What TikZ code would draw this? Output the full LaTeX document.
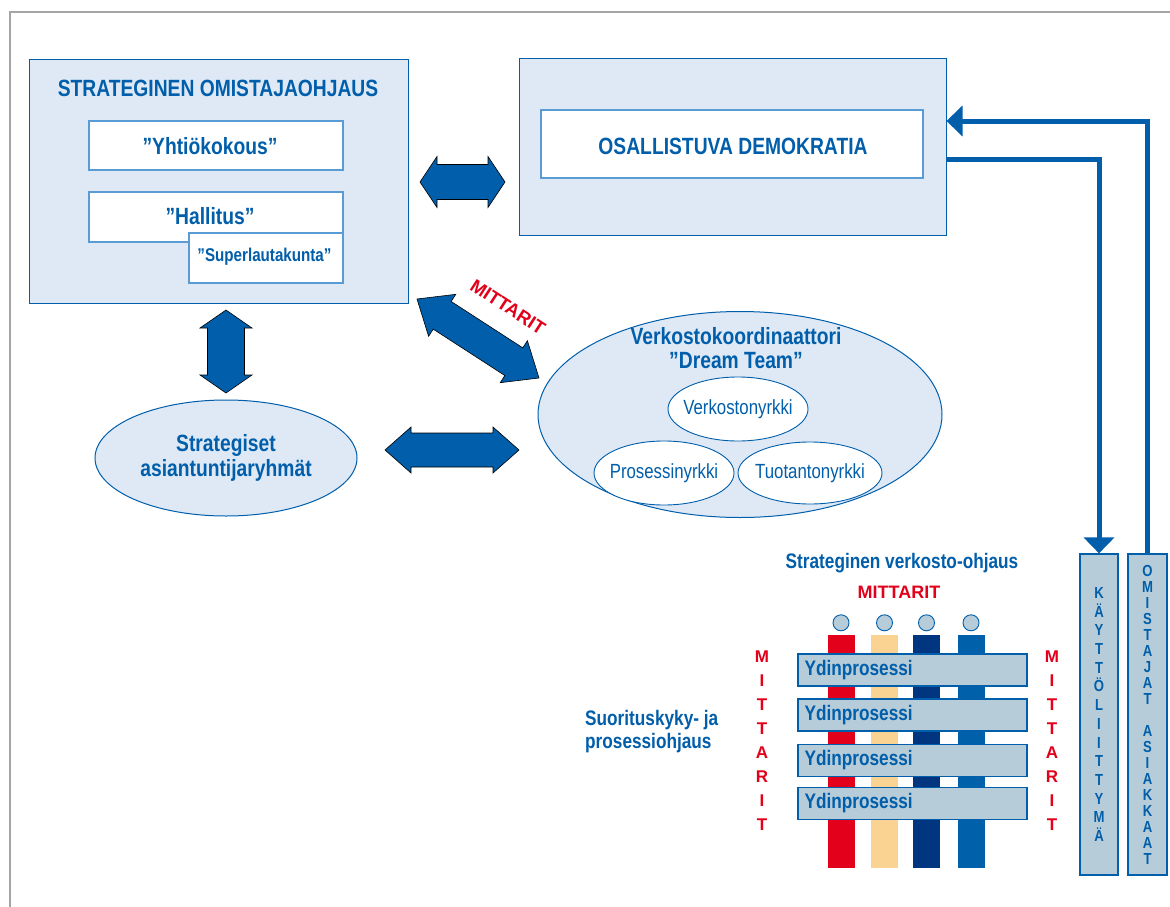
\documentclass[tikz,border=0pt]{standalone}
\usepackage{fontspec}
\setmainfont{Liberation Sans}
\newfontfamily\nar[FakeStretch=0.82]{Liberation Sans}
\usetikzlibrary{calc,shapes.geometric,arrows.meta}
\definecolor{mainblue}{RGB}{0,94,170}
\definecolor{lightfill}{RGB}{222,233,245}
\definecolor{innerblue}{RGB}{91,155,213}
\definecolor{barfill}{RGB}{182,204,216}
\definecolor{mred}{RGB}{226,0,26}
\definecolor{mtan}{RGB}{250,210,145}
\definecolor{mnavy}{RGB}{0,53,128}
\definecolor{mblue}{RGB}{0,96,170}
\definecolor{framegray}{RGB}{165,165,165}
\newcommand{\dblblock}[5]{%
 \filldraw[blockarrow] (#1)
  -- ($(#1)!#5!(#2)!#4!90:(#2)$)
  -- ($(#1)!#5!(#2)!#3!90:(#2)$)
  -- ($(#2)!#5!(#1)!#3!-90:(#1)$)
  -- ($(#2)!#5!(#1)!#4!-90:(#1)$)
  -- (#2)
  -- ($(#2)!#5!(#1)!#4!90:(#1)$)
  -- ($(#2)!#5!(#1)!#3!90:(#1)$)
  -- ($(#1)!#5!(#2)!#3!-90:(#2)$)
  -- ($(#1)!#5!(#2)!#4!-90:(#2)$)
  -- cycle;}
\tikzset{
 bigbox/.style={draw=mainblue, fill=lightfill, line width=1pt, inner sep=0pt},
 whitebox/.style={draw=innerblue, fill=white, line width=1.3pt, inner sep=0pt},
 bigtext/.style={font=\nar\bfseries\fontsize{23.5}{24.5}\selectfont, text=mainblue, inner sep=0pt},
 midtext/.style={font=\nar\bfseries\fontsize{21}{23.5}\selectfont, text=mainblue, inner sep=0pt},
 smalltext/.style={font=\nar\bfseries\fontsize{18.5}{21}\selectfont, text=mainblue},
 ellbig/.style={ellipse, draw=mainblue, fill=lightfill, line width=1pt, inner sep=0pt},
 nyrkki/.style={ellipse, draw=mainblue, fill=white, line width=0.9pt, inner sep=0pt},
 nyrktext/.style={font=\nar\fontsize{20.5}{23}\selectfont, text=mainblue, inner sep=0pt},
 blockarrow/.style={fill=mainblue, draw=black, line width=0.6pt, line join=miter},
 redlabel/.style={font=\bfseries\fontsize{17}{24}\selectfont, text=mred, inner sep=0pt, align=center},
 linkarrow/.style={draw=mainblue, line width=5pt, -{Triangle[length=16pt,width=30pt]}},
 sidebar/.style={draw=mainblue, fill=barfill, line width=1.2pt, inner sep=0pt, text=mainblue, align=center},
 ybox/.style={draw=mainblue, fill=barfill, line width=1.2pt, inner sep=0pt, minimum width=229pt, minimum height=32pt},
 colbar/.style={inner sep=0pt, minimum width=27pt, minimum height=233pt},
 headdot/.style={circle, draw=mainblue, fill=barfill, line width=0.9pt, minimum size=16pt, inner sep=0pt},
}
\begin{document}
\begin{tikzpicture}[x=1pt,y=-1pt]
\useasboundingbox (0,0) rectangle (1170,907);
\fill[white] (0,0) rectangle (1170,907);
\draw[framegray, line width=2pt] (10,907) -- (10,12) -- (1170,12);

% left top box
\node[bigbox, minimum width=379pt, minimum height=243pt] (som) at (218.5,181.5) {};
\node[bigtext] (somt) at (218,88) {STRATEGINEN OMISTAJAOHJAUS};
\node[whitebox, minimum width=254pt, minimum height=49pt] (yht) at (216,145.5) {};
\node[bigtext] (yhtt) at (210,146) {”Yhtiökokous”};
\node[whitebox, minimum width=254pt, minimum height=50pt] (hal) at (216,217) {};
\node[bigtext] (halt) at (210,216) {”Hallitus”};
\node[whitebox, minimum width=154pt, minimum height=50pt] (sup) at (266,258) {};
\node[smalltext, inner sep=0pt] (supt) at (264.5,257) {”Superlautakunta”};

% right top box
\node[bigbox, minimum width=427pt, minimum height=176pt] (osd) at (732.5,147) {};
\node[whitebox, minimum width=382pt, minimum height=68pt] (demo) at (732,144) {};
\node[bigtext] (demot) at (733,146) {OSALLISTUVA DEMOKRATIA};

% dream team ellipse
\node[ellbig, minimum width=404pt, minimum height=206pt] (dream) at (740,414.5) {};
\node[bigtext, align=center] (dreamt) at (736,348) {Verkostokoordinaattori\\”Dream Team”};
\node[nyrkki, minimum width=140pt, minimum height=64pt] (verk) at (738,409) {};
\node[nyrktext] at (verk) {Verkostonyrkki};
\node[nyrkki, minimum width=140pt, minimum height=64pt] (pros) at (664,473) {};
\node[nyrktext] at (pros) {Prosessinyrkki};
\node[nyrkki, minimum width=144pt, minimum height=62pt] (tuot) at (810,473) {};
\node[nyrktext] at (tuot) {Tuotantonyrkki};

% strategiset ellipse
\node[ellbig, minimum width=262pt, minimum height=116pt] (asi) at (226,458) {};
\node[bigtext, align=center] (asit) at (asi) {Strategiset\\asiantuntijaryhmät};

% block arrows
\coordinate (a1) at (420,182); \coordinate (a2) at (505,182);
\dblblock{a1}{a2}{17.5pt}{25.5pt}{17pt}
\coordinate (b1) at (226,310); \coordinate (b2) at (226,393);
\dblblock{b1}{b2}{18.5pt}{26pt}{18pt}
\coordinate (c1) at (385,450); \coordinate (c2) at (519,450);
\dblblock{c1}{c2}{17pt}{23pt}{26pt}
\coordinate (d1) at (417,299); \coordinate (d2) at (539,378);
\dblblock{d1}{d2}{16.5pt}{25pt}{30pt}
\node[redlabel, rotate=-33, font=\bfseries\fontsize{18.5}{20}\selectfont] (mitd) at (508,307) {MITTARIT};

% side bars
\node[sidebar, minimum width=38pt, minimum height=321pt, font=\nar\bfseries\fontsize{16}{18.7}\selectfont] (kay) at (1099,714.5) {K\\Ä\\Y\\T\\T\\Ö\\L\\I\\I\\T\\T\\Y\\M\\Ä};
\node[sidebar, minimum width=39pt, minimum height=321pt, font=\nar\bfseries\fontsize{16}{16}\selectfont] (omis) at (1147.5,714.5) {O\\M\\I\\S\\T\\A\\J\\A\\T\\[16pt]A\\S\\I\\A\\K\\K\\A\\A\\T};
\draw[linkarrow] (omis.north) |- ([yshift=26pt]osd.east);
\draw[linkarrow] ([yshift=-12pt]osd.east) -| (kay.north);

% process chart
\node[midtext] (svo) at (902,563) {Strateginen verkosto-ohjaus};
\node[redlabel, font=\bfseries\fontsize{18}{20}\selectfont] (mtop) at (899,592) {MITTARIT};
\node[colbar, fill=mred] (col1) at (841,751.5) {};
\node[colbar, fill=mtan] (col2) at (884.5,751.5) {};
\node[colbar, fill=mnavy] (col3) at (926.5,751.5) {};
\node[colbar, fill=mblue] (col4) at (971,751.5) {};
\node[headdot] (hd1) at ([yshift=12pt]col1.north) {};
\node[headdot] (hd2) at ([yshift=12pt]col2.north) {};
\node[headdot] (hd3) at ([yshift=12pt]col3.north) {};
\node[headdot] (hd4) at ([yshift=12pt]col4.north) {};
\node[ybox] (y1) at (912.5,670) {};
\node[ybox] (y2) at (912.5,715) {};
\node[ybox] (y3) at (912.5,760.5) {};
\node[ybox] (y4) at (912.5,803.5) {};
\foreach \r in {1,2,3,4}
  \node[midtext, anchor=west] (yt\r) at ([xshift=7pt]y\r.west) {Ydinprosessi};
\node[redlabel] (ml) at (762,741) {M\\I\\T\\T\\A\\R\\I\\T};
\node[redlabel] (mr) at (1052,741) {M\\I\\T\\T\\A\\R\\I\\T};
\node[midtext, align=left, anchor=west] (suor) at (585,731.5) {Suorituskyky- ja\\prosessiohjaus};
\end{tikzpicture}
\end{document}
